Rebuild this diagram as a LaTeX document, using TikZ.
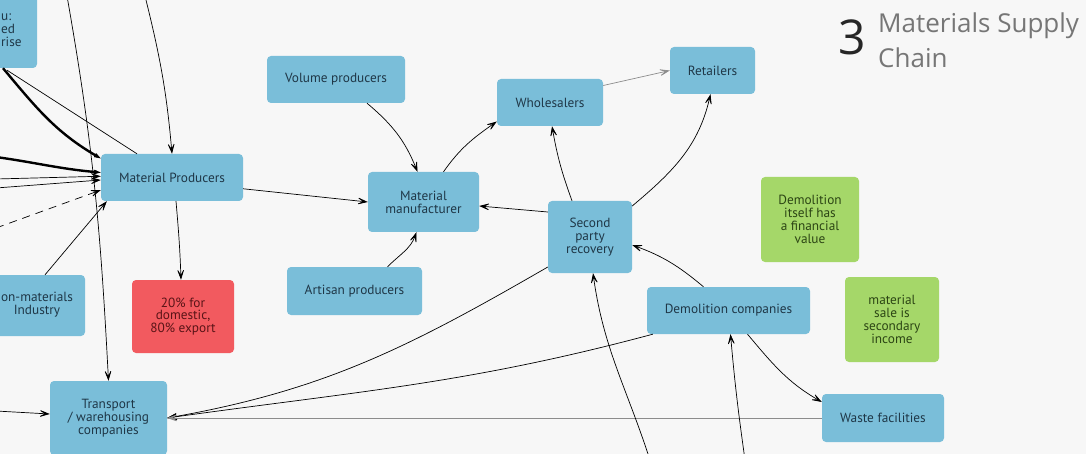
\documentclass[tikz,border=0pt]{standalone}
\usepackage{fontspec}
\setmainfont{PT Sans}
\newfontfamily\titlefont{Open Sans}
\usetikzlibrary{arrows.meta,calc}
\definecolor{paper}{HTML}{F7F7F7}
\definecolor{boxblue}{HTML}{7ABED9}
\definecolor{boxred}{HTML}{F25A5F}
\definecolor{boxgreen}{HTML}{A5D769}
\definecolor{bluetext}{HTML}{1F3747}
\definecolor{redtext}{HTML}{5A1417}
\definecolor{greentext}{HTML}{2C4514}
\definecolor{titlegray}{HTML}{767676}

\begin{document}
\begin{tikzpicture}[x=1pt,y=-1pt,
  box/.style={fill=boxblue, rounded corners=4pt, text=bluetext, align=center,
    inner sep=0pt, font=\fontsize{13.3}{12.8}\selectfont},
  redbox/.style={box, fill=boxred, text=redtext},
  greenbox/.style={box, fill=boxgreen, text=greentext},
  boxtext/.style={text=bluetext, inner sep=0pt, font=\fontsize{13.3}{12.8}\selectfont},
  flow/.style={-{Stealth[length=13pt,width=9pt,inset=8pt]}, black, line width=0.7pt},
  heavy/.style={flow, line width=2.4pt},
  faint/.style={flow, black!45},
  plain/.style={black, line width=0.7pt}]

  % Hintergrund
  \fill[paper] (0,0) rectangle (1086,454);
  \useasboundingbox (0,0) rectangle (1086,454);

  % Titel
  \node[font=\titlefont\fontsize{48}{48}\selectfont, text=black!85, anchor=base west, inner sep=0pt] (num) at (838,55) {3};
  \node[font=\titlefont\fontsize{26}{35}\selectfont, text=titlegray, anchor=north west, align=left, inner sep=0pt] (title) at (878,13) {Materials Supply\\Chain};

  % Kaesten am Rand
  \node[box, minimum width=100, minimum height=110] (soe) at (-13,13) {};
  \node[boxtext, anchor=north west, align=left] (soetxt) at (1,14) {u:\\ed\\rise};
  \node[box, minimum width=130, minimum height=61] (nonmat) at (20,305.5) {};
  \node[boxtext, align=center] (nonmattxt) at (37,305) {on-materials\\Industry};

  % Kaesten
  \node[box, minimum width=142, minimum height=47] (prod) at (172,177.5) {Material Producers};
  \node[box, minimum width=138, minimum height=47] (vol) at (336,79.5) {Volume producers};
  \node[box, minimum width=106, minimum height=47] (whole) at (550,102.5) {Wholesalers};
  \node[box, minimum width=85, minimum height=47] (ret) at (712.5,70.5) {Retailers};
  \node[box, minimum width=111, minimum height=60] (manu) at (423.5,202) {Material\\manufacturer};
  \node[box, minimum width=84, minimum height=72] (spr) at (590,237) {Second\\party\\recovery};
  \node[box, minimum width=135, minimum height=48] (art) at (354.5,291) {Artisan producers};
  \node[redbox, minimum width=102, minimum height=73] (red) at (183,316.5) {20\% for\\domestic,\\80\% export};
  \node[box, minimum width=117, minimum height=74] (trans) at (108.5,418) {Transport\\/ warehousing\\companies};
  \node[box, minimum width=163, minimum height=47] (demo) at (728.5,310.5) {Demolition companies};
  \node[box, minimum width=122, minimum height=48] (waste) at (883,418) {Waste facilities};
  \node[greenbox, minimum width=98, minimum height=85] (value) at (810,219.5) {Demolition\\itself has\\a financial\\value};
  \node[greenbox, minimum width=94, minimum height=85] (income) at (892,319.5) {material\\sale is\\secondary\\income};

  % freie Enden
  \coordinate (topA) at (67,-4);
  \coordinate (topB) at (145,-4);
  \coordinate (left1) at (-4,157);
  \coordinate (left2) at (-4,179);
  \coordinate (left3) at (-4,188);
  \coordinate (left4) at (-4,228);
  \coordinate (left5) at (-4,411);
  \coordinate (botA) at (650,460);
  \coordinate (botB) at (745,460);

  % Zufluesse zu den Produzenten
  \draw[flow] (topA) to[out=-80,in=93] (trans.north);
  \draw[flow] (topB) to[out=-76,in=95] (prod.north);
  \draw[heavy] ($(soe.south)+(16,0)$) to[out=-50,in=150] (prod.165);
  \draw[plain] ($(soe.south)+(20,2)$) -- ($(prod.north)+(-35,0)$);
  \draw[heavy] (left1) to[out=-8,in=175] (prod.176);
  \draw[flow] (left2) -- (prod.179);
  \draw[flow] (left3) -- (prod.182);
  \draw[flow, dash pattern=on 8pt off 6pt] (left4) -- (prod.190);
  \draw[flow] ($(nonmat.north)+(25,0)$) -- (prod.200);

  % Herstellung und Handel
  \draw[flow] (prod.-9) -- (manu.west);
  \draw[flow] ($(prod.south)+(4,0)$) to[out=-85,in=92] ($(red.north)+(-2,0)$);
  \draw[flow] ($(vol.south)+(31,0)$) to[out=-40,in=112] ($(manu.north)+(-6,0)$);
  \draw[flow] ($(art.north)+(33,0)$) to[out=45,in=-110] ($(manu.south)+(-7,0)$);
  \draw[flow] ($(manu.north)+(20,0)$) to[out=55,in=-145] ($(whole.west)+(0,19)$);
  \draw[faint] ($(whole.east)+(0,-17)$) -- (ret.west);

  % Rueckgewinnung
  \draw[flow] ($(spr.north)+(-18,0)$) to[out=110,in=-80] ($(whole.south)+(2,0)$);
  \draw[flow] ($(spr.east)+(0,-31)$) to[out=40,in=-103] ($(ret.south)+(-2,0)$);
  \draw[flow] ($(spr.west)+(0,-25)$) -- ($(manu.east)+(0,4)$);
  \draw[flow] ($(demo.north)+(-25,0)$) to[out=140,in=-20] ($(spr.east)+(0,8)$);
  \draw[flow] ($(demo.south)+(19,0)$) to[out=-50,in=150] ($(waste.west)+(0,-16)$);

  % Transport
  \draw[flow] ($(spr.west)+(0,30)$) to[out=210,in=10] (trans.east);
  \draw[flow] ($(demo.south west)+(6,0)$) to[out=195,in=8] (trans.east);
  \draw[faint] (waste.west) -- (trans.east);
  \draw[flow] (left5) -- ($(trans.west)+(0,-4)$);

  % von unten
  \draw[flow] (botA) to[out=108,in=-82] ($(spr.south)+(3,0)$);
  \draw[flow] (botB) to[out=98,in=-85] ($(demo.south)+(2,0)$);
\end{tikzpicture}
\end{document}
